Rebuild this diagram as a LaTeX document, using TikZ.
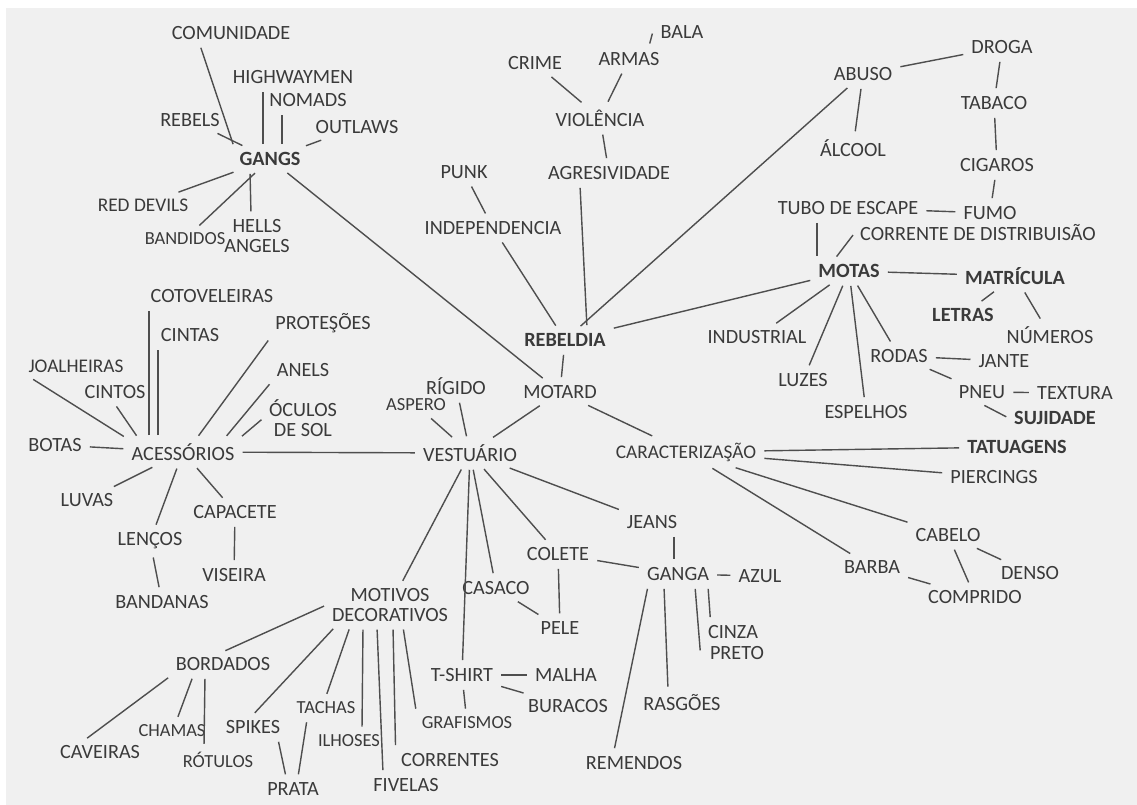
\documentclass[tikz,border=0pt]{standalone}
\usepackage{fontspec}
\setmainfont{Carlito}
\usepackage{tikz}
\usetikzlibrary{calc}
\definecolor{paper}{HTML}{F0F0F0}
\definecolor{ink}{HTML}{3A3A3A}
\definecolor{pen}{HTML}{4E4E4E}
\tikzset{
    word/.style={text=ink, inner sep=3pt, align=center, font=\fontsize{11.5}{11}\selectfont},
    key/.style={word, font=\fontsize{11.5}{11}\selectfont\bfseries},
    mid/.style={word, font=\fontsize{11}{11}\selectfont},
    small/.style={word, font=\fontsize{10.5}{11}\selectfont},
    link/.style={draw=pen, line width=0.8pt, shorten <=1.5pt, shorten >=1.5pt},
}

\begin{document}
\begin{tikzpicture}[x=0.02cm, y=-0.02cm]
    \useasboundingbox (0,0) rectangle (1137,805);
    \fill[white] (0,0) rectangle (1137,805);
    \fill[paper] (6,8) rectangle (1137,805);

    % Centre
    \node[key]  (rebeldia) at (565,340) {REBELDIA};
    \node[word] (motard)   at (560,392) {MOTARD};

    % Gangs
    \node[key]  (gangs)     at (270,159) {GANGS};
    \node[word] (comu)      at (231,33)  {COMUNIDADE};
    \node[word] (hwm)       at (293,77)  {HIGHWAYMEN};
    \node[word] (nomads)    at (308,100) {NOMADS};
    \node[word] (outlaws)   at (357,127) {OUTLAWS};
    \node[word] (rebels)    at (190,120) {REBELS};
    \node[mid]  (reddevils) at (143,205) {RED DEVILS};
    \node[small] (bandidos) at (185,239) {BANDIDOS};
    \node[word] (hells)     at (257,236) {HELLS\\ANGELS};

    % Rebeldia
    \node[word] (bala)      at (682,32)  {BALA};
    \node[word] (armas)     at (629,59)  {ARMAS};
    \node[word] (crime)     at (535,63)  {CRIME};
    \node[word] (violencia) at (600,118) {VIOLÊNCIA};
    \node[word] (agres)     at (609,173) {AGRESIVIDADE};
    \node[word] (punk)      at (464,172) {PUNK};
    \node[word] (indep)     at (493,228) {INDEPENDENCIA};

    % Abuso
    \node[word] (abuso)   at (863,74)  {ABUSO};
    \node[word] (droga)   at (1002,47) {DROGA};
    \node[word] (alcool)  at (853,148) {ÁLCOOL};
    \node[word] (tabaco)  at (994,103) {TABACO};
    \node[word] (cigaros) at (997,165) {CIGAROS};
    \node[word] (fumo)    at (990,213) {FUMO};

    % Motas
    \node[key]  (motas)      at (849,271)  {MOTAS};
    \node[word] (tubo)       at (848,208)  {TUBO DE ESCAPE};
    \node[word] (corrente)   at (978,233)  {CORRENTE DE DISTRIBUISÃO};
    \node[key]  (matricula)  at (1015,276) {MATRÍCULA};
    \node[key]  (letras)     at (963,315)  {LETRAS};
    \node[word] (numeros)    at (1050,335) {NÚMEROS};
    \node[word] (industrial) at (757,337)  {INDUSTRIAL};
    \node[word] (luzes)      at (803,380)  {LUZES};
    \node[word] (espelhos)   at (866,412)  {ESPELHOS};
    \node[word] (rodas)      at (899,356)  {RODAS};
    \node[word] (jante)      at (1004,361) {JANTE};
    \node[word] (pneu)       at (982,392)  {PNEU};
    \node[word] (textura)    at (1075,393) {TEXTURA};
    \node[key]  (sujidade)   at (1055,418) {SUJIDADE};

    % Caracterizacao
    \node[mid]  (caract)    at (686,452)  {CARACTERIZAŞÃO};
    \node[key]  (tatuagens) at (1017,447) {TATUAGENS};
    \node[word] (piercings) at (994,477)  {PIERCINGS};
    \node[word] (cabelo)    at (948,535)  {CABELO};
    \node[word] (barba)     at (872,567)  {BARBA};
    \node[word] (comprido)  at (975,597)  {COMPRIDO};
    \node[word] (denso)     at (1030,573) {DENSO};

    % Vestuario
    \node[word] (vest)      at (470,453) {VESTUÁRIO};
    \node[word] (rigido)    at (456,386) {RÍGIDO};
    \node[small] (aspero)   at (416,405) {ASPERO};
    \node[word] (jeans)     at (652,522) {JEANS};
    \node[word] (colete)    at (558,554) {COLETE};
    \node[word] (pele)      at (560,628) {PELE};
    \node[word] (casaco)    at (496,588) {CASACO};
    \node[word] (ganga)     at (678,574) {GANGA};
    \node[word] (azul)      at (760,576) {AZUL};
    \node[word] (cinza)     at (733,632) {CINZA};
    \node[word] (preto)     at (737,653) {PRETO};
    \node[word] (rasgoes)   at (682,703) {RASGÕES};
    \node[word] (remendos)  at (634,763) {REMENDOS};
    \node[word] (tshirt)    at (462,675) {T-SHIRT};
    \node[word] (malha)     at (566,675) {MALHA};
    \node[word] (buracos)   at (568,706) {BURACOS};
    \node[small] (grafismos) at (467,723) {GRAFISMOS};

    % Motivos decorativos
    \node[word] (motivos)   at (390,605) {MOTIVOS\\DECORATIVOS};
    \node[word] (correntes) at (450,760) {CORRENTES};
    \node[word] (fivelas)   at (406,785) {FIVELAS};
    \node[word] (bordados)  at (223,664) {BORDADOS};
    \node[word] (caveiras)  at (100,752) {CAVEIRAS};
    \node[small] (chamas)   at (172,731) {CHAMAS};
    \node[small] (rotulos)  at (218,760) {RÓTULOS};
    \node[word] (spikes)    at (253,727) {SPIKES};
    \node[word] (prata)     at (293,789) {PRATA};
    \node[small] (tachas)   at (326,708) {TACHAS};
    \node[small] (ilhoses)  at (349,741) {ILHOSES};

    % Acessorios
    \node[word] (acess)     at (183,452) {ACESSÓRIOS};
    \node[word] (cotov)     at (212,296) {COTOVELEIRAS};
    \node[word] (cintas)    at (190,335) {CINTAS};
    \node[word] (protecoes) at (323,323) {PROTEŞÕES};
    \node[word] (anels)     at (303,370) {ANELS};
    \node[word] (oculos)    at (303,418) {ÓCULOS\\DE SOL};
    \node[mid]  (joalh)     at (76,366)  {JOALHEIRAS};
    \node[word] (cintos)    at (115,392) {CINTOS};
    \node[word] (botas)     at (55,445)  {BOTAS};
    \node[word] (luvas)     at (87,500)  {LUVAS};
    \node[word] (lencos)    at (150,541) {LENÇOS};
    \node[word] (capacete)  at (235,512) {CAPACETE};
    \node[word] (viseira)   at (234,575) {VISEIRA};
    \node[word] (bandanas)  at (162,602) {BANDANAS};

    % Links
    \foreach \a/\b in {rebeldia/motard, gangs/motard, indep/rebeldia, abuso/rebeldia,
        motas/rebeldia, motard/vest, motard/caract,
        gangs/outlaws, gangs/rebels, gangs/reddevils, gangs/bandidos,
        violencia/crime, violencia/armas, violencia/agres, punk/indep,
        abuso/droga, abuso/alcool, droga/tabaco, tabaco/cigaros, cigaros/fumo, tubo/fumo,
        motas/matricula, matricula/letras, matricula/numeros, motas/industrial,
        motas/luzes, motas/espelhos, motas/rodas, rodas/jante, rodas/pneu, pneu/textura,
        caract/tatuagens, caract/piercings, caract/cabelo, caract/barba,
        cabelo/denso, cabelo/comprido, barba/comprido,
        vest/acess, vest/rigido, vest/aspero, vest/jeans, vest/colete, vest/casaco,
        vest/tshirt, vest/motivos, colete/ganga, colete/pele, casaco/pele,
        ganga/azul, tshirt/malha, tshirt/buracos, tshirt/grafismos,
        acess/botas, acess/luvas, acess/lencos, acess/capacete,
        capacete/viseira, lencos/bandanas}
        \draw[link] (\a) -- (\b);

    % Links that leave from the side of a word
    \draw[link] (gangs.north west) -- ($(comu.south)+(-31,0)$);
    \draw[link] ($(gangs.north)+(-7,0)$) -- ($(hwm.south)+(-30,0)$);
    \draw[link] ($(gangs.north)+(12,0)$) -- ($(nomads.south)+(-26,0)$);
    \draw[link] ($(gangs.south)+(-20,0)$) -- ($(hells.north)+(-6,0)$);
    \draw[link] ($(bala.south west)+(-6,2)$) -- ($(bala.west)+(-2,-1)$);
    \draw[link] ($(agres.south)+(-29,0)$) -- ($(rebeldia.north)+(22,0)$);
    \draw[link] ($(tubo.south)+(-31,0)$) -- ($(motas.north)+(-32,0)$);
    \draw[link] (corrente.west) -- ($(motas.north)+(-14,0)$);
    \draw[link] (pneu.south) -- (sujidade.west);
    \draw[link] ($(jeans.south)+(22,0)$) -- ($(ganga.north)+(-4,0)$);
    \draw[link] ($(ganga.south)+(30,0)$) -- ($(cinza.north west)+(8,0)$);
    \draw[link] ($(ganga.south)+(17,0)$) -- ($(preto.west)+(-4,0)$);
    \draw[link] ($(ganga.south)+(-14,0)$) -- ($(rasgoes.north)+(-14,0)$);
    \draw[link] ($(ganga.south)+(-30,0)$) -- ($(remendos.north)+(-20,0)$);
    \draw[link] ($(acess.north)+(-34,0)$) -- ($(cotov.south)+(-63,0)$);
    \draw[link] ($(acess.north)+(-25,0)$) -- ($(cintas.south)+(-32,0)$);
    \draw[link] ($(joalh.south west)+(8,0)$) -- (acess.north west);
    \draw[link] (cintos.south) -- ($(acess.north west)+(12,0)$);
    \draw[link] (protecoes.south west) -- ($(acess.north)+(14,0)$);
    \draw[link] (anels.south west) -- ($(acess.north east)+(-15,0)$);
    \draw[link] (oculos.west) -- (acess.north east);

    % Motivos fan
    \draw[link] (motivos.west) -- (bordados.north);
    \draw[link] ($(motivos.south)+(-55,0)$) -- (spikes.north);
    \draw[link] ($(motivos.south)+(-40,0)$) -- (tachas.north);
    \draw[link] ($(motivos.south)+(-27,0)$) -- ($(ilhoses.north)+(13,0)$);
    \draw[link] ($(motivos.south)+(-13,0)$) -- ($(fivelas.north)+(-23,0)$);
    \draw[link] ($(motivos.south)+(3,0)$) -- (correntes.north west);
    \draw[link] ($(motivos.south)+(13,0)$) -- (grafismos.north west);
    \draw[link] (bordados.south west) -- ($(caveiras.north)+(-15,0)$);
    \draw[link] ($(bordados.south)+(-30,0)$) -- ($(chamas.north)+(5,0)$);
    \draw[link] ($(bordados.south)+(-18,0)$) -- ($(rotulos.north)+(-14,0)$);
    \draw[link] ($(spikes.south)+(25,0)$) -- ($(prata.north)+(-7,0)$);
    \draw[link] ($(tachas.south)+(-19,0)$) -- ($(prata.north)+(5,0)$);
\end{tikzpicture}
\end{document}
